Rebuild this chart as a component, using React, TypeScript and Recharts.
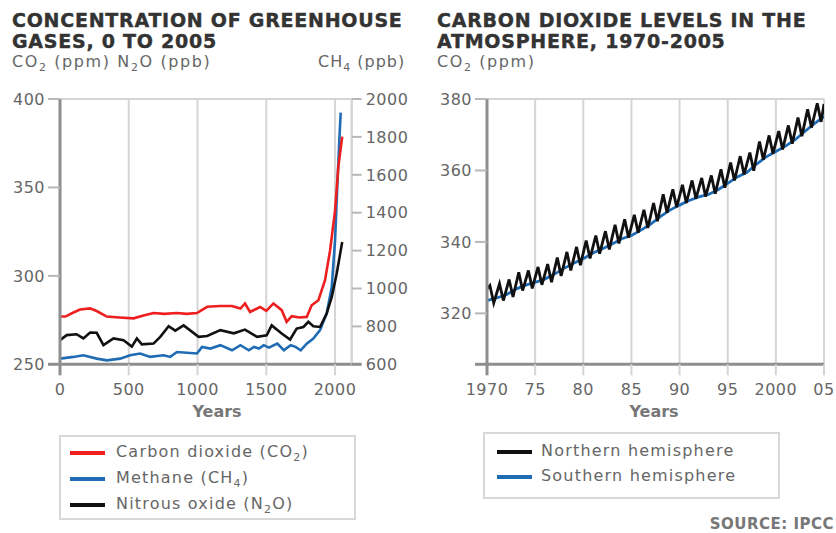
import React from 'react';
import { LineChart, Line, XAxis, YAxis, CartesianGrid, ReferenceLine } from 'recharts';

const FONT = '"DejaVu Sans", Verdana, sans-serif';
const AXIS = '#8e8e8e';
const GRID = '#d5d5d5';
const TICK_TEXT = '#666666';
const RED = '#ee1f1f';
const BLUE = '#1f6cb4';
const BLACK = '#111111';

// ---- left chart: concentration of greenhouse gases, 0 to 2005 ----
const CO2_YEARS = [0, 40, 90, 146, 219, 270, 340, 430, 535, 600, 680, 760, 850, 920, 996, 1070, 1164, 1250, 1312, 1345, 1382, 1455, 1500, 1552, 1612, 1648, 1685, 1740, 1794, 1830, 1879, 1927, 1964, 2000, 2024, 2052];
const CO2_PPM = [277, 277, 279, 281, 281.6, 280, 277, 276.5, 276, 277.5, 279, 278.5, 279, 278.5, 279, 282.5, 283, 283, 281.5, 284.4, 279.6, 282.4, 280.2, 284.4, 280.6, 274, 277.2, 276.5, 276.8, 283.4, 286.2, 297.6, 314.5, 337, 361.7, 378.7];

const N2O_YEARS = [0, 49, 120, 170, 219, 267, 316, 389, 462, 522, 559, 595, 680, 729, 790, 838, 899, 1008, 1070, 1166, 1264, 1345, 1433, 1503, 1539, 1612, 1673, 1721, 1770, 1806, 1842, 1891, 1939, 1976, 2012, 2052];
const N2O_PPB = [263.6, 266.5, 267, 264.6, 268, 267.8, 260.8, 264.6, 263.6, 260, 264.6, 261.3, 261.7, 265.5, 271.5, 269, 272, 265.5, 266, 269.3, 267.5, 269.6, 265.5, 266.4, 272, 267.4, 264, 270.2, 271.1, 274, 271.5, 271.1, 278.7, 288.1, 301.3, 319.2];

const CH4_YEARS = [0, 97, 170, 267, 340, 437, 510, 583, 656, 753, 802, 850, 996, 1033, 1094, 1166, 1251, 1312, 1373, 1410, 1446, 1482, 1519, 1580, 1628, 1677, 1713, 1750, 1794, 1842, 1891, 1939, 1976, 2000, 2017, 2031, 2041];
const CH4_PPB = [630, 639, 648, 630, 621, 630, 648, 657, 639, 648, 639, 665, 657, 692, 683, 701, 674, 701, 674, 692, 683, 701, 688, 709, 674, 701, 692, 674, 709, 736, 780, 868, 1008, 1255, 1555, 1783, 1928];

const GAS_X_DOMAIN = [0, 2121];
const GAS_X_TICKS = [0, 500, 1000, 1500, 2000];
const GAS_LEFT_TICKS = [250, 300, 350, 400];
const GAS_RIGHT_TICKS = [600, 800, 1000, 1200, 1400, 1600, 1800, 2000];

// ---- right chart: carbon dioxide levels 1970-2005 ----
const NH_YEARS = [1970, 1971, 1972, 1973, 1974, 1975, 1976, 1977, 1978, 1979, 1980, 1981, 1982, 1983, 1984, 1985, 1986, 1987, 1988, 1989, 1990, 1991, 1992, 1993, 1994, 1995, 1996, 1997, 1998, 1999, 2000, 2001, 2002, 2003, 2004];
const NH_PEAKS = [327.8, 328.3, 329.5, 331.5, 332.0, 333.0, 333.8, 335.6, 337.2, 338.6, 340.4, 341.8, 343.0, 344.8, 346.3, 347.6, 349.0, 350.9, 353.3, 354.7, 356.0, 357.2, 357.9, 358.6, 360.3, 362.2, 364.0, 365.0, 368.1, 369.8, 371.0, 372.6, 374.8, 377.1, 378.8];
const NH_TROUGHS = [322.9, 323.6, 324.6, 326.4, 327.0, 328.0, 328.7, 330.5, 332.0, 333.5, 335.4, 336.7, 337.9, 339.6, 341.2, 342.6, 343.9, 345.8, 348.2, 349.7, 350.9, 352.1, 352.7, 353.5, 355.2, 357.2, 358.9, 359.9, 363.0, 364.7, 365.9, 367.5, 369.6, 372.0, 373.6];
const NH_START = 326.9;
const NH_END = 378.6;
const PEAK_AT = 0.3; // fraction of the year
const TROUGH_AT = 0.7;

const SH_YEARS = [1970, 1971, 1972, 1973, 1974, 1975, 1976, 1977, 1978, 1979, 1980, 1981, 1982, 1983, 1984, 1985, 1986, 1987, 1988, 1989, 1990, 1991, 1992, 1993, 1994, 1995, 1996, 1997, 1998, 1999, 2000, 2001, 2002, 2003, 2004, 2005];
const SH_PPM = [323.6, 324.3, 325.2, 326.8, 327.9, 328.7, 329.6, 331.0, 332.6, 334.0, 335.3, 336.9, 338.1, 339.4, 340.9, 341.8, 343.3, 345.0, 347.1, 348.9, 350.3, 351.6, 352.6, 353.3, 354.6, 356.4, 358.2, 359.5, 361.8, 363.8, 365.3, 366.8, 368.6, 370.9, 373.1, 375.1];

const CO2_X_TICKS = [1970, 1975, 1980, 1985, 1990, 1995, 2000, 2005];
const CO2_Y_MIN = 305.75;
const CO2_Y_TICKS = [CO2_Y_MIN, 320, 340, 360, 380];

const co2Data = CO2_YEARS.map((year, i) => ({ year, value: CO2_PPM[i] }));
const n2oData = N2O_YEARS.map((year, i) => ({ year, value: N2O_PPB[i] }));
const ch4Data = CH4_YEARS.map((year, i) => ({ year, value: CH4_PPB[i] }));

const nhData = [{ year: 1970, value: NH_START }];
NH_YEARS.forEach((y, i) => {
  nhData.push({ year: y + PEAK_AT, value: NH_PEAKS[i] });
  nhData.push({ year: y + TROUGH_AT, value: NH_TROUGHS[i] });
});
nhData.push({ year: 2005, value: NH_END });
const shData = SH_YEARS.map((year, i) => ({ year, value: SH_PPM[i] }));

const X_TICK_SIZE = 11;
const X_TICK_MARGIN = 8;

function XTick(props: any) {
  const { x, y, payload, index, fmt } = props;
  const top = y - X_TICK_SIZE - X_TICK_MARGIN;
  const first = index === 0;
  return (
    <g>
      <line x1={x} x2={x} y1={top} y2={top + X_TICK_SIZE} stroke={first ? AXIS : GRID} strokeWidth={first ? 3 : 2} />
      <text x={x} y={y} dy="0.71em" textAnchor="middle" fill={TICK_TEXT} fontSize={16} letterSpacing={0.5} fontFamily={FONT}>
        {fmt ? fmt(payload.value) : payload.value}
      </text>
    </g>
  );
}

function YTick(props: any) {
  const { x, y, payload, side, size, margin, bottom, hideBottom } = props;
  const isBottom = payload.value === bottom;
  const lineStart = side === 'left' ? x + margin : x - margin;
  const lineEnd = side === 'left' ? lineStart + size : lineStart - size;
  return (
    <g>
      <line x1={lineStart} x2={lineEnd} y1={y} y2={y} stroke={isBottom ? AXIS : '#b8b8b8'} strokeWidth={isBottom ? 3 : 2} />
      {!(isBottom && hideBottom) && (
        <text x={x} y={y} dy="0.36em" textAnchor={side === 'left' ? 'end' : 'start'} fill={TICK_TEXT} fontSize={16} letterSpacing={0.5} fontFamily={FONT}>
          {payload.value}
        </text>
      )}
    </g>
  );
}

const shortYear = (v: number) => (v === 1970 || v === 2000 ? String(v) : String(v).slice(2));

function Sub({ children }: { children: React.ReactNode }) {
  return <span style={{ fontSize: 11, position: 'relative', top: 4 }}>{children}</span>;
}

const titleStyle: React.CSSProperties = {
  position: 'absolute',
  fontFamily: FONT,
  fontWeight: 'bold',
  fontSize: 19,
  letterSpacing: 0.75,
  lineHeight: '21px',
  color: '#333',
  WebkitTextStroke: '0.4px #333',
  whiteSpace: 'nowrap',
};

const unitStyle: React.CSSProperties = {
  position: 'absolute',
  fontFamily: FONT,
  fontSize: 16,
  letterSpacing: 1.6,
  lineHeight: '16px',
  color: '#666',
  whiteSpace: 'nowrap',
};

const legendText: React.CSSProperties = {
  position: 'absolute',
  fontFamily: FONT,
  fontSize: 16,
  letterSpacing: 1.2,
  lineHeight: '16px',
  color: '#666',
  whiteSpace: 'nowrap',
};

function LegendRow({ left, top, color, textLeft, children }: any) {
  return (
    <>
      <div style={{ position: 'absolute', left, top: top - 2, width: 35, height: 4, background: color }} />
      <div style={{ ...legendText, left: textLeft, top: top - 9 }}>{children}</div>
    </>
  );
}

export default function App() {
  return (
    <div style={{ position: 'absolute', left: 0, top: 0, width: 836, height: 533, background: '#fff', overflow: 'hidden', fontFamily: FONT }}>
      {/* left chart */}
      <div style={{ position: 'absolute', left: 0, top: 0 }}>
        <LineChart width={420} height={420} margin={{ top: 99, right: 0, bottom: 0, left: 0 }}>
          <CartesianGrid horizontal={false} stroke={GRID} strokeWidth={2} />
          <ReferenceLine y={400} stroke={GRID} strokeWidth={2} />
          <XAxis
            dataKey="year"
            type="number"
            domain={GAS_X_DOMAIN}
            ticks={GAS_X_TICKS}
            interval={0}
            allowDataOverflow
            height={55.7}
            tickSize={X_TICK_SIZE}
            tickMargin={X_TICK_MARGIN}
            tickLine={false}
            axisLine={{ stroke: AXIS, strokeWidth: 3 }}
            tick={(p: any) => <XTick {...p} />}
          />
          <YAxis
            type="number"
            domain={[250, 400]}
            ticks={GAS_LEFT_TICKS}
            interval={0}
            allowDataOverflow
            width={60}
            tickSize={12}
            tickMargin={3}
            tickLine={false}
            axisLine={{ stroke: AXIS, strokeWidth: 3 }}
            tick={(p: any) => <YTick {...p} side="left" size={12} margin={3} bottom={250} />}
          />
          <YAxis
            yAxisId="ch4"
            orientation="right"
            type="number"
            domain={[600, 2000]}
            ticks={GAS_RIGHT_TICKS}
            interval={0}
            allowDataOverflow
            width={68.3}
            tickSize={10}
            tickMargin={4}
            tickLine={false}
            axisLine={{ stroke: GRID, strokeWidth: 2 }}
            tick={(p: any) => <YTick {...p} side="right" size={10} margin={4} bottom={600} />}
          />
          <Line data={ch4Data} yAxisId="ch4" dataKey="value" type="linear" stroke={BLUE} strokeWidth={2.6} dot={false} isAnimationActive={false} />
          <Line data={n2oData} dataKey="value" type="linear" stroke={BLACK} strokeWidth={2.6} dot={false} isAnimationActive={false} />
          <Line data={co2Data} dataKey="value" type="linear" stroke={RED} strokeWidth={2.6} dot={false} isAnimationActive={false} />
        </LineChart>
      </div>

      {/* right chart */}
      <div style={{ position: 'absolute', left: 420, top: 0 }}>
        <LineChart width={416} height={420} margin={{ top: 99, right: 12, bottom: 0, left: 0 }}>
          <CartesianGrid horizontal={false} stroke={GRID} strokeWidth={2} />
          <ReferenceLine y={380} stroke={GRID} strokeWidth={2} />
          <XAxis
            dataKey="year"
            type="number"
            domain={[1970, 2005]}
            ticks={CO2_X_TICKS}
            interval={0}
            allowDataOverflow
            height={55.7}
            tickSize={X_TICK_SIZE}
            tickMargin={X_TICK_MARGIN}
            tickLine={false}
            axisLine={{ stroke: AXIS, strokeWidth: 3 }}
            tick={(p: any) => <XTick {...p} fmt={shortYear} />}
          />
          <YAxis
            type="number"
            domain={[CO2_Y_MIN, 380]}
            ticks={CO2_Y_TICKS}
            interval={0}
            allowDataOverflow
            width={67}
            tickSize={12}
            tickMargin={3}
            tickLine={false}
            axisLine={{ stroke: AXIS, strokeWidth: 3 }}
            tick={(p: any) => <YTick {...p} side="left" size={12} margin={3} bottom={CO2_Y_MIN} hideBottom />}
          />
          <Line data={shData} dataKey="value" type="linear" stroke={BLUE} strokeWidth={2.8} dot={false} isAnimationActive={false} />
          <Line data={nhData} dataKey="value" type="linear" stroke={BLACK} strokeWidth={2.8} dot={false} isAnimationActive={false} />
        </LineChart>
      </div>

      {/* titles */}
      <div style={{ ...titleStyle, left: 12, top: 9.5 }}>
        CONCENTRATION OF GREENHOUSE
        <br />
        GASES, 0 TO 2005
      </div>
      <div style={{ ...titleStyle, left: 437, top: 9.5 }}>
        CARBON DIOXIDE LEVELS IN THE
        <br />
        ATMOSPHERE, 1970-2005
      </div>

      {/* axis units */}
      <div style={{ ...unitStyle, left: 12, top: 54 }}>
        CO<Sub>2</Sub> (ppm) N<Sub>2</Sub>O (ppb)
      </div>
      <div style={{ ...unitStyle, left: 318, top: 54, letterSpacing: 1 }}>
        CH<Sub>4</Sub> (ppb)
      </div>
      <div style={{ ...unitStyle, left: 437, top: 54 }}>
        CO<Sub>2</Sub> (ppm)
      </div>

      {/* x axis titles */}
      <div style={{ position: 'absolute', left: 167, width: 100, top: 404, textAlign: 'center', fontFamily: FONT, fontWeight: 'bold', fontSize: 16, color: '#777', lineHeight: '16px' }}>
        Years
      </div>
      <div style={{ position: 'absolute', left: 604, width: 100, top: 404, textAlign: 'center', fontFamily: FONT, fontWeight: 'bold', fontSize: 16, color: '#777', lineHeight: '16px' }}>
        Years
      </div>

      {/* legends */}
      <div style={{ position: 'absolute', left: 59, top: 435, width: 293, height: 81, border: '2px solid #d8d8d8' }} />
      <LegendRow left={70} top={453} color={RED} textLeft={116}>
        Carbon dioxide (CO<Sub>2</Sub>)
      </LegendRow>
      <LegendRow left={70} top={479} color={BLUE} textLeft={116}>
        Methane (CH<Sub>4</Sub>)
      </LegendRow>
      <LegendRow left={70} top={505} color={BLACK} textLeft={116}>
        Nitrous oxide (N<Sub>2</Sub>O)
      </LegendRow>

      <div style={{ position: 'absolute', left: 483, top: 432, width: 293, height: 63, border: '2px solid #d8d8d8' }} />
      <LegendRow left={497} top={452} color={BLACK} textLeft={541}>
        Northern hemisphere
      </LegendRow>
      <LegendRow left={497} top={477} color={BLUE} textLeft={541}>
        Southern hemisphere
      </LegendRow>

      <div style={{ position: 'absolute', right: 2, top: 516, fontFamily: FONT, fontWeight: 'bold', fontSize: 15, letterSpacing: 0.5, color: '#777', lineHeight: '16px', whiteSpace: 'nowrap' }}>
        SOURCE: IPCC
      </div>
    </div>
  );
}
